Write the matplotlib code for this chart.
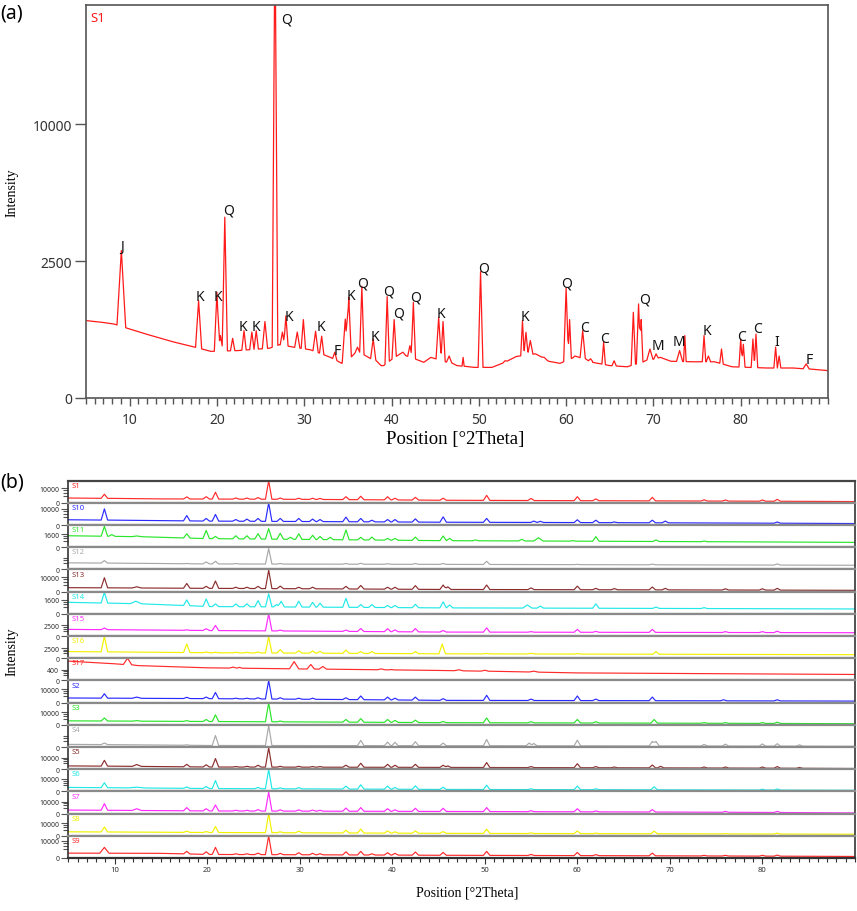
import matplotlib
matplotlib.use("Agg")
import matplotlib.pyplot as plt
import numpy as np
from matplotlib.ticker import FixedLocator, MultipleLocator, NullLocator

# ---------------- panel (a): S1 pattern ----------------
a_base = [(5, 800), (7, 760), (8.2, 730), (9.9, 640), (12, 540), (15, 420), (17.3, 350),
          (19.3, 290), (22.4, 300), (23.6, 310), (26, 330), (27.2, 380), (29, 340), (30.7, 310),
          (33, 220), (34.3, 160), (36.3, 280), (38.8, 140), (39.1, 140), (41, 260), (43.7, 170),
          (44.5, 220), (47.5, 140), (49.5, 125), (51.5, 125), (53, 170), (54.3, 230), (56.5, 260),
          (58, 180), (59.3, 160), (61.2, 230), (63, 170), (65, 140), (67, 130), (70.8, 220),
          (72, 180), (74.5, 175), (77, 175), (79, 130), (83, 120), (86, 120), (90, 100)]
# (position, intensity, half width)
a_peaks = [(9.05, 2900, 0.5), (17.9, 1260, 0.35), (20.0, 1490, 0.3), (20.4, 520, 0.3),
           (20.9, 4360, 0.3), (21.8, 475, 0.25), (23.1, 605, 0.25), (24.0, 580, 0.25),
           (24.5, 605, 0.25), (25.5, 780, 0.3), (26.65, 30000, 0.32), (27.5, 580, 0.25),
           (27.9, 900, 0.25), (29.2, 580, 0.3), (29.9, 820, 0.25), (31.3, 595, 0.3),
           (32.0, 510, 0.25), (33.5, 280, 0.25), (34.7, 830, 0.35), (35.1, 1350, 0.3),
           (36.1, 345, 0.3), (36.6, 1665, 0.25), (37.9, 465, 0.3), (39.5, 1370, 0.25),
           (40.3, 820, 0.25), (41.3, 280, 0.35), (42.1, 365, 0.25), (42.5, 1220, 0.25),
           (45.4, 870, 0.3), (45.9, 780, 0.25), (46.6, 235, 0.3), (48.2, 220, 0.12),
           (50.2, 2130, 0.28), (53.0, 185, 0.25), (55.0, 800, 0.2), (55.4, 575, 0.25),
           (55.9, 440, 0.3), (57.5, 220, 0.35), (60.0, 1610, 0.28), (60.4, 820, 0.2),
           (61.0, 235, 0.25), (61.9, 605, 0.3), (62.8, 205, 0.25), (64.3, 415, 0.2),
           (65.5, 185, 0.25), (67.7, 980, 0.25), (68.3, 1180, 0.25), (68.6, 820, 0.2),
           (69.6, 320, 0.35), (70.3, 260, 0.25), (73.0, 300, 0.35), (73.6, 520, 0.15),
           (75.8, 520, 0.2), (76.3, 235, 0.25), (77.8, 320, 0.2), (80.0, 465, 0.2),
           (80.3, 385, 0.2), (81.4, 465, 0.2), (81.75, 545, 0.2), (84.0, 345, 0.2),
           (84.4, 235, 0.2), (87.5, 155, 0.35)]
a_labels = [(9.1, 3080, "J"), (18.1, 1362, "K"), (20.15, 1362, "K"), (21.3, 4720, "Q"),
            (23.0, 673, "K"), (24.5, 673, "K"), (28.0, 19180, "Q"), (28.2, 876, "K"),
            (31.9, 673, "K"), (33.8, 295, "F"), (35.3, 1390, "K"), (36.7, 1765, "Q"),
            (38.1, 497, "K"), (39.7, 1528, "Q"), (40.8, 965, "Q"), (42.7, 1362, "Q"),
            (45.7, 942, "K"), (50.6, 2256, "Q"), (55.3, 876, "K"), (60.0, 1765, "Q"),
            (62.1, 654, "C"), (64.4, 480, "C"), (69.0, 1308, "Q"), (70.5, 361, "M"),
            (72.9, 419, "M"), (76.1, 599, "K"), (80.1, 497, "C"), (81.9, 636, "C"),
            (84.1, 419, "I"), (87.8, 193, "F")]
a_yticks = [0, 2500, 10000]
a_ymax = 20600
x_ticks = [10, 20, 30, 40, 50, 60, 70, 80]

# ---------------- panel (b): stacked patterns ----------------
names = ["S1", "S10", "S11", "S12", "S13", "S14", "S15", "S16", "S17",
         "S2", "S3", "S4", "S5", "S6", "S7", "S8", "S9"]
colors = ["#ff2a2a", "#2a2aff", "#2ae62a", "#a8a8a8", "#8b2e2e", "#22e8e8", "#ff2aff", "#f2f200",
          "#ff2a2a", "#2a2aff", "#2ae62a", "#a8a8a8", "#8b2e2e", "#22e8e8", "#ff2aff", "#f2f200",
          "#ff2a2a"]
tops = [23000, 19000, 4700, 30000, 24000, 3900, 11000, 12400, 1650,
        28000, 31000, 30000, 36500, 31000, 34500, 32000, 16600]
tick_vals = [10000, 10000, 1600, None, 10000, 1600, 2500, 2500, 400,
             10000, 10000, None, 10000, 10000, 10000, 10000, 10000]

s1_base = [(5, 1110), (15, 745), (30, 590), (45, 330), (60, 230), (90, 83)]
s1_peaks = [(8.9, 3500), (17.8, 1680), (19.9, 1800), (20.9, 5300), (23.1, 1110), (24.3, 1110),
            (25.5, 1320), (26.65, 22500), (27.9, 1110), (29.9, 1010), (31.4, 1010), (32.2, 920),
            (35.0, 1800), (36.6, 2070), (39.5, 1800), (40.3, 1010), (42.5, 1440), (45.5, 1010),
            (50.2, 2660), (55.0, 920), (60.0, 1800), (62.0, 745), (68.1, 1440), (73.7, 450),
            (76.0, 390), (80.0, 390), (81.6, 590)]
s10_base = [(5, 1090), (20, 615), (45, 320), (90, 93)]
s10_peaks = [(8.9, 10100), (17.8, 3500), (19.9, 1710), (20.9, 4380), (23.1, 1190), (24.3, 1390),
             (25.5, 1710), (26.65, 19000), (27.9, 1710), (29.9, 1710), (31.4, 1390), (32.2, 1190),
             (35.0, 2460), (36.6, 1710), (37.8, 920), (39.5, 1190), (40.3, 1190), (42.5, 1490),
             (45.5, 2600), (50.2, 1710), (55.3, 615), (56.0, 550), (60.0, 1090), (62.0, 920),
             (64.0, 370), (68.1, 920), (69.5, 615), (81.6, 370)]
s11_base = [(5, 1270), (12, 1080), (20, 715), (45, 420), (90, 230)]
s11_peaks = [(8.9, 4150), (9.7, 1530), (12.4, 1220, 0.6), (17.8, 1750), (19.9, 2710), (20.9, 1130),
             (23.1, 1270), (24.3, 1270), (25.5, 1750), (26.65, 3320), (27.9, 1870), (29.0, 950),
             (29.9, 1750), (31.4, 1370), (32.2, 1130), (33.3, 950), (35.0, 2860), (36.6, 950),
             (37.8, 995), (39.5, 750), (40.3, 750), (42.5, 995), (45.5, 1220), (46.2, 750),
             (49.0, 510), (54.0, 610), (55.8, 870, 0.5), (59.5, 420), (62.0, 1080), (68.5, 510),
             (73.7, 370)]
s12_base = [(5, 2700), (20, 1875), (90, 1080)]
s12_peaks = [(8.9, 4800), (12.4, 2190), (17.8, 2190), (19.9, 3470), (20.9, 4100), (23.1, 2190),
             (26.65, 26500), (27.9, 2190), (35.0, 2190), (36.6, 2350), (39.5, 2030), (42.5, 2190),
             (45.5, 2190), (50.2, 4100), (60.0, 1590), (68.1, 1730), (81.6, 1875)]
s13_base = [(5, 780), (20, 540), (45, 240), (90, 86)]
s13_peaks = [(8.9, 9500), (12.4, 1160, 0.5), (17.8, 3290), (19.9, 1380), (20.9, 5530), (23.1, 960),
             (24.3, 960), (25.5, 1380), (26.65, 22600), (27.9, 1500), (29.9, 960), (31.4, 960),
             (35.0, 1380), (36.6, 1880), (39.5, 960), (40.3, 960), (42.5, 1750), (45.5, 2160),
             (46.0, 1160), (50.2, 2160), (55.0, 690), (60.0, 1500), (62.0, 540), (64.0, 470),
             (68.1, 1060), (69.5, 540), (76.0, 405), (80.0, 405), (81.6, 540)]
s14_base = [(5, 1055), (13, 790), (20, 425), (45, 285), (90, 190)]
s14_peaks = [(8.9, 3670), (12.3, 1270, 0.6), (17.8, 1550), (19.9, 1750), (20.9, 790), (23.1, 790),
             (24.3, 790), (25.5, 1400), (26.65, 3160), (27.5, 690), (28.0, 1270), (29.9, 1270),
             (31.4, 1055), (32.2, 900), (35.0, 1910), (36.6, 690), (37.8, 690), (39.5, 565),
             (40.3, 565), (42.5, 720), (45.5, 1140), (46.2, 625), (54.6, 625, 0.5), (56.0, 480),
             (62.0, 790), (68.5, 375), (73.7, 305)]
s15_base = [(5, 990), (20, 690), (45, 356), (90, 250)]
s15_peaks = [(8.9, 1430), (17.8, 860), (19.9, 1200), (20.9, 2530), (26.65, 11000), (27.9, 800),
             (35.0, 800), (36.6, 1270), (39.5, 1200), (40.3, 860), (42.5, 1270), (45.5, 690),
             (50.2, 1500), (55.0, 440), (60.0, 990), (62.0, 485), (68.1, 990), (76.0, 440),
             (80.0, 440), (81.6, 530)]
s16_base = [(5, 1120), (20, 775), (45, 500), (90, 320)]
s16_peaks = [(8.9, 12150), (17.8, 5080), (19.9, 970), (20.9, 900), (23.1, 900), (24.3, 900),
             (25.5, 970), (26.65, 11670), (27.9, 1890), (29.9, 1430), (31.4, 1350), (32.2, 1190),
             (35.0, 1700), (36.6, 1120), (37.8, 1120), (42.5, 1120), (45.4, 5080), (50.2, 600),
             (55.0, 600, 0.5), (60.0, 560), (68.5, 1120)]
s17_base = [(5, 1250), (10, 930), (12.5, 740), (20, 535), (30, 445), (45, 335), (60, 190), (90, 120)]
s17_peaks = [(11.4, 1650, 0.45), (22.8, 595, 0.4), (23.5, 570, 0.3), (29.4, 1190, 0.5),
             (31.2, 855, 0.4), (32.5, 655, 0.4), (38.8, 450, 0.4), (39.9, 400, 0.3),
             (47.2, 380, 0.5), (50.0, 350, 0.4), (55.3, 290, 0.5)]
s2_base = [(5, 1230), (20, 910), (45, 300), (90, 137)]
s2_peaks = [(8.9, 4480), (12.4, 1750, 0.5), (17.8, 1610), (19.9, 1750), (20.9, 5920), (23.1, 1120),
            (24.3, 1120), (25.5, 1355), (26.65, 28000), (27.9, 1355), (29.9, 1120), (31.4, 1120),
            (35.0, 1355), (36.6, 2520), (39.5, 1750), (40.3, 1120), (42.5, 1750), (45.5, 910),
            (50.2, 3050), (55.0, 720), (60.0, 2520), (62.0, 720), (68.1, 1750), (75.8, 470),
            (81.6, 470)]
s3_base = [(5, 1000), (20, 700), (45, 300), (90, 78)]
s3_peaks = [(8.9, 2980), (12.4, 1120, 0.5), (17.8, 1100), (19.9, 1790), (20.9, 6280), (26.65, 30400),
            (27.9, 900), (35.0, 1790), (36.6, 2430), (39.5, 1790), (40.3, 1240), (42.5, 1370),
            (45.5, 700), (50.2, 2980), (55.0, 610), (60.0, 1790), (62.0, 610), (68.3, 1790),
            (73.7, 310), (76.0, 310), (80.0, 310), (81.6, 450)]
s4_base = [(5, 430), (20, 150), (90, 27)]
s4_peaks = [(8.9, 970), (12.4, 300, 0.5), (17.8, 300), (20.9, 8100), (26.65, 28200), (36.6, 2700),
            (39.5, 1450), (40.3, 1320), (42.5, 1730), (45.5, 970), (50.2, 3470), (54.8, 970),
            (55.3, 770), (60.0, 2880), (68.1, 1875), (68.5, 1875), (73.7, 430), (76.0, 510),
            (80.0, 590), (81.6, 675), (84.0, 300)]
s5_base = [(5, 820), (20, 365), (90, 33)]
s5_peaks = [(8.9, 5840), (12.4, 1610, 0.5), (17.8, 1770), (19.9, 1460), (20.9, 8410), (23.1, 525),
            (24.3, 620), (25.5, 1180), (26.65, 34300), (27.9, 620), (29.9, 620), (31.4, 525),
            (32.2, 525), (35.0, 1180), (36.6, 2660), (39.5, 1770), (40.3, 1180), (42.5, 1770),
            (45.5, 1180), (46.0, 820), (50.2, 3285), (55.0, 525), (60.0, 2280), (62.0, 525),
            (64.0, 365), (68.1, 1320), (69.0, 620), (73.7, 365), (76.0, 365), (80.0, 365),
            (81.6, 525), (84.0, 230)]
s6_base = [(5, 1000), (20, 525), (45, 250), (90, 78)]
s6_peaks = [(8.9, 4720), (12.4, 1120, 0.9), (17.8, 1240), (19.9, 1500), (20.9, 7440), (25.5, 1000),
            (26.65, 30400), (27.9, 795), (29.9, 900), (35.0, 1790), (36.6, 2790), (39.5, 1790),
            (40.3, 1000), (42.5, 1940), (45.5, 1120), (50.2, 2430), (55.0, 450), (60.0, 1790),
            (62.0, 450), (68.3, 1370), (80.0, 310), (81.6, 375)]
s7_base = [(5, 880), (20, 500), (90, 31)]
s7_peaks = [(8.9, 6990), (12.4, 1670, 0.5), (17.8, 2520), (19.9, 1670), (20.9, 5250), (23.1, 775),
            (24.3, 775), (25.5, 1120), (26.65, 32500), (27.9, 1000), (29.9, 1000), (31.4, 880),
            (32.2, 775), (35.0, 2160), (36.6, 2520), (39.5, 1670), (40.3, 1000), (42.5, 1990),
            (45.5, 1990), (50.2, 2520), (55.0, 580), (60.0, 1670), (62.0, 500), (68.1, 1120),
            (76.0, 345), (81.6, 345)]
s8_base = [(5, 1040), (20, 720), (45, 400), (90, 157)]
s8_peaks = [(8.9, 5120), (17.8, 1410), (19.9, 1155), (20.9, 5640), (26.65, 32000), (27.9, 1040),
            (29.9, 1410), (35.0, 2000), (36.6, 2880), (39.5, 1550), (40.3, 1040), (42.5, 1550),
            (45.5, 1155), (50.2, 2880), (55.0, 540), (60.0, 1550), (62.0, 460), (68.3, 1410),
            (76.0, 320), (81.6, 460)]
s9_base = [(5, 800), (15, 730), (20, 425), (45, 250), (90, 81)]
s9_peaks = [(8.9, 3820, 0.5), (17.8, 1490), (19.9, 1300), (20.9, 3820), (23.1, 600), (24.3, 600),
            (25.5, 800), (26.65, 16600), (27.9, 730), (29.9, 955), (31.4, 730), (32.2, 600),
            (35.0, 1300), (36.6, 1490), (37.8, 600), (39.5, 955), (40.3, 730), (42.5, 1210),
            (45.5, 1040), (50.2, 1490), (55.0, 425), (60.0, 1040), (62.0, 375), (68.1, 800),
            (73.7, 240), (76.0, 240), (80.0, 240), (81.6, 280)]

bases = [s1_base, s10_base, s11_base, s12_base, s13_base, s14_base, s15_base, s16_base, s17_base,
         s2_base, s3_base, s4_base, s5_base, s6_base, s7_base, s8_base, s9_base]
peaks = [s1_peaks, s10_peaks, s11_peaks, s12_peaks, s13_peaks, s14_peaks, s15_peaks, s16_peaks,
         s17_peaks, s2_peaks, s3_peaks, s4_peaks, s5_peaks, s6_peaks, s7_peaks, s8_peaks, s9_peaks]


def build_trace(base, pks, hw=0.35):
    # background polyline with narrow peaks on top (triangles in sqrt space)
    bx = np.array([b[0] for b in base], float)
    by = np.array([b[1] for b in base], float)
    xs = set(bx.tolist())
    for pk in pks:
        w = pk[2] if len(pk) > 2 else hw
        xs.update([pk[0] - w, pk[0], pk[0] + w])
    xs = np.array(sorted(xs))
    s = np.sqrt(np.interp(xs, bx, by))
    for pk in pks:
        w = pk[2] if len(pk) > 2 else hw
        s0 = np.sqrt(np.interp(pk[0], bx, by))
        frac = 1 - np.abs(xs - pk[0]) / w
        bump = np.where(frac > 0, s0 + (np.sqrt(pk[1]) - s0) * frac, 0)
        s = np.maximum(s, bump)
    return xs, s ** 2


def fwd(v):
    return np.sqrt(np.clip(v, 0, None))


def inv(v):
    return np.square(v)


sans = "Noto Sans"
serif = "Liberation Serif"
tick_col = "#333333"

fig = plt.figure(figsize=(8.57, 9.12), dpi=100)

# ---------- (a) ----------
ax = fig.add_axes([86 / 857, 1 - 399 / 912, (828 - 86) / 857, (399 - 6) / 912])
x, y = build_trace(a_base, a_peaks)
ax.plot(x, y, color="#ff1a1a", lw=0.9)
ax.set_yscale("function", functions=(fwd, inv))
ax.set_xlim(5, 90)
ax.set_ylim(0, a_ymax)
ax.yaxis.set_major_locator(FixedLocator(a_yticks))
ax.yaxis.set_minor_locator(NullLocator())
ax.set_yticklabels([str(v) for v in a_yticks])
ax.xaxis.set_major_locator(FixedLocator(x_ticks))
ax.xaxis.set_minor_locator(MultipleLocator(1))
ax.tick_params(axis="x", which="major", direction="out", length=6, width=1, colors="#555555",
               labelcolor=tick_col, labelsize=10, pad=4)
ax.tick_params(axis="x", which="minor", direction="out", length=4, width=1, colors="#555555")
ax.tick_params(axis="y", which="major", direction="out", length=8, width=1, colors="#555555",
               labelcolor=tick_col, labelsize=10, pad=2)
for lab in ax.get_xticklabels() + ax.get_yticklabels():
    lab.set_family(sans)
for sp in ax.spines.values():
    sp.set_color("#555555")
    sp.set_linewidth(1.2)
for lx, ly, t in a_labels:
    ax.text(lx, ly, t, ha="center", va="center", fontsize=10, family=sans, color="#111111")
ax.text(0.006, 0.985, "S1", transform=ax.transAxes, ha="left", va="top", fontsize=9.5,
        family=sans, color="#ff1a1a")
fig.text(12 / 857, 1 - 193 / 912, "Intensity", rotation=90, ha="center", va="center",
         fontsize=10, family=serif)
fig.text(455 / 857, 1 - 440 / 912, "Position [°2Theta]", ha="center", va="center",
         fontsize=13.5, family=serif)
fig.text(0.0, 1 - 14 / 912, "(a)", ha="left", va="center", fontsize=14, family=sans)

# ---------- (b) ----------
left, right, top, bottom = 68.3, 855, 481.7, 859
n = len(names)
h = (bottom - top) / n
for i in range(n):
    axb = fig.add_axes([left / 857, 1 - (top + (i + 1) * h) / 912, (right - left) / 857, h / 912])
    x, y = build_trace(bases[i], peaks[i])
    axb.plot(x, y, color=colors[i], lw=0.85)
    axb.set_yscale("function", functions=(fwd, inv))
    axb.set_xlim(5, 90)
    axb.set_ylim(0, tops[i])
    tv = tick_vals[i]
    ref = tv if tv is not None else 10000
    if tv is not None:
        axb.yaxis.set_major_locator(FixedLocator([0, tv]))
        axb.set_yticklabels(["0", str(tv)])
    else:
        axb.yaxis.set_major_locator(FixedLocator([0]))
        axb.set_yticklabels(["0"])
    axb.yaxis.set_minor_locator(FixedLocator([ref * 0.25, ref * 0.5, ref * 0.75]))
    axb.tick_params(axis="y", which="major", direction="out", length=5, width=0.8,
                    colors="#555555", labelcolor=tick_col, labelsize=5, pad=1.5)
    axb.tick_params(axis="y", which="minor", direction="out", length=3.5, width=0.8,
                    colors="#555555")
    for lab in axb.get_yticklabels():
        lab.set_family(sans)
    axb.xaxis.set_major_locator(FixedLocator(x_ticks))
    axb.xaxis.set_minor_locator(MultipleLocator(1))
    if i < n - 1:
        axb.tick_params(axis="x", which="both", bottom=False, labelbottom=False)
    else:
        axb.tick_params(axis="x", which="major", direction="out", length=4, width=0.8,
                        colors="#333333", labelcolor=tick_col, labelsize=5.5, pad=2)
        axb.tick_params(axis="x", which="minor", direction="out", length=3, width=0.8,
                        colors="#333333")
        for lab in axb.get_xticklabels():
            lab.set_family(sans)
    for name, sp in axb.spines.items():
        if name in ("left", "right"):
            sp.set_color("#333333")
            sp.set_linewidth(1.2)
        else:
            sp.set_color("#8a8a8a")
            sp.set_linewidth(1.6)
    if i == 0:
        axb.spines["top"].set_color("#444444")
    if i == n - 1:
        axb.spines["bottom"].set_color("#333333")
    axb.text(0.004, 0.95, names[i], transform=axb.transAxes, ha="left", va="top",
             fontsize=5.5, family=sans, color=colors[i])

fig.text(12 / 857, 1 - 652 / 912, "Intensity", rotation=90, ha="center", va="center",
         fontsize=10, family=serif)
fig.text(467 / 857, 1 - 893 / 912, "Position [°2Theta]", ha="center", va="center",
         fontsize=10, family=serif)
fig.text(0.0, 1 - 483 / 912, "(b)", ha="left", va="center", fontsize=14, family=sans)

fig.savefig("out.png", dpi=100)
